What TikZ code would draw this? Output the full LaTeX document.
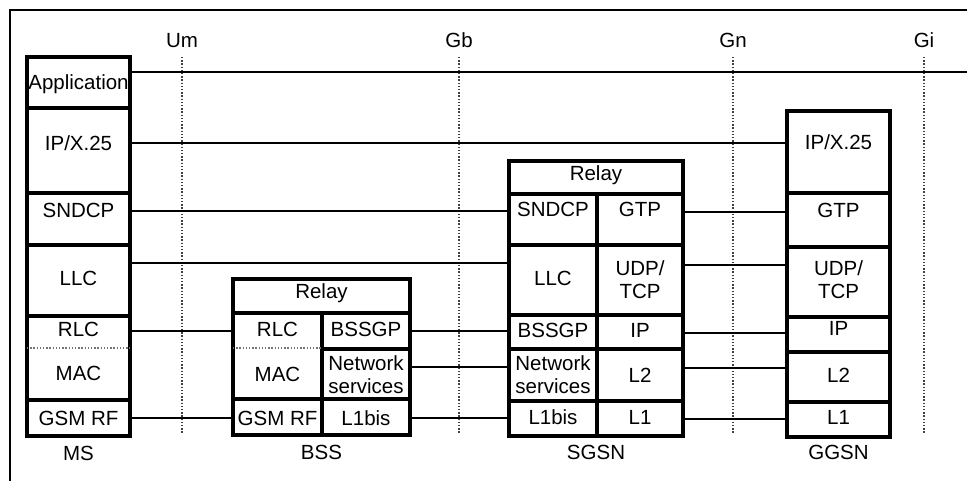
\documentclass[tikz,border=0pt]{standalone}
\usepackage{fontspec}
\setmainfont{Liberation Sans}
\begin{document}
\begin{tikzpicture}[x=1pt,y=-1pt,
	every node/.style={font=\fontsize{20.5}{23}\selectfont},
	couche/.style={draw, line width=3.4pt, anchor=north west, inner sep=0pt, outer sep=0pt},
	txt/.style={inner sep=0pt, text height=15pt, text depth=0pt},
	txtdeux/.style={inner sep=0pt, align=center},
	lien/.style={line width=2.8pt},
	iface/.style={line width=1.4pt, black!75, dash pattern=on 1.4pt off 1.8pt},
	separ/.style={line width=1.4pt, black!55, dash pattern=on 1.4pt off 1.8pt}]
	\useasboundingbox (0,0) rectangle (967,481);
	%cadre
	\draw [line width=2.2pt] (967,10) -- (10,10) -- (10,481);
	%hauteurs des liaisons
	\coordinate (y-haut) at (0,57);
	\coordinate (y-bas) at (0,433);
	\coordinate (y-app) at (0,72);
	\coordinate (y-ip) at (0,143);
	\coordinate (y-sndcp) at (0,211);
	\coordinate (y-llc) at (0,263);
	\coordinate (y-rlc) at (0,331);
	\coordinate (y-rf) at (0,418);
	\coordinate (y-ns) at (0,367);
	\coordinate (y-gtp) at (0,212);
	\coordinate (y-udp) at (0,265);
	\coordinate (y-ipg) at (0,333);
	\coordinate (y-l2) at (0,368);
	\coordinate (y-l1) at (0,419);
	\coordinate (fin-app) at (967,72);
	%fin
	%interfaces
	\node[txt] (um) at (182,40) {Um};
	\node[txt] (gb) at (459,40) {Gb};
	\node[txt] (gn) at (733,40) {Gn};
	\node[txt] (gi) at (924,40) {Gi};
	\draw[iface] (um |- y-haut) -- (um |- y-bas);
	\draw[iface] (gb |- y-haut) -- (gb |- y-bas);
	\draw[iface] (gn |- y-haut) -- (gn |- y-bas);
	\draw[iface] (gi |- y-haut) -- (gi |- y-bas);
	%fin
	%MS
	\node[couche, minimum width=103pt, minimum height=51pt] (ms-app) at (27,57) {};
	\node[couche, minimum width=103pt, minimum height=85pt] (ms-ip) at (27,108) {};
	\node[couche, minimum width=103pt, minimum height=52pt] (ms-sndcp) at (27,193) {};
	\node[couche, minimum width=103pt, minimum height=71pt] (ms-llc) at (27,245) {};
	\node[couche, minimum width=103pt, minimum height=84pt] (ms-mac) at (27,316) {};
	\node[couche, minimum width=103pt, minimum height=36pt] (ms-rf) at (27,400) {};
	\draw[separ] (ms-mac.west |- 0,348) -- (ms-mac.east |- 0,348);
	\node[txt] (ms-app-t) at (78.5,82) {Application};
	\node[txt] (ms-ip-t) at (78.5,143) {IP/X.25};
	\node[txt] (ms-sndcp-t) at (78.5,210) {SNDCP};
	\node[txt] (ms-llc-t) at (78.5,278) {LLC};
	\node[txt] (ms-rlc-t) at (78.5,329) {RLC};
	\node[txt] (ms-mac-t) at (78.5,373) {MAC};
	\node[txt] (ms-rf-t) at (78.5,418) {GSM RF};
	\node[txt] (ms) at (78.5,453) {MS};
	%fin
	%BSS
	\node[couche, minimum width=177pt, minimum height=34pt] (bss-relay) at (233,279) {};
	\node[couche, minimum width=89pt, minimum height=86pt] (bss-mac) at (233,313) {};
	\node[couche, minimum width=88pt, minimum height=36pt] (bss-bssgp) at (322,313) {};
	\node[couche, minimum width=88pt, minimum height=50pt] (bss-ns) at (322,349) {};
	\node[couche, minimum width=89pt, minimum height=36pt] (bss-rf) at (233,399) {};
	\node[couche, minimum width=88pt, minimum height=36pt] (bss-l1) at (322,399) {};
	\draw[separ] (bss-mac.west |- 0,348) -- (bss-mac.east |- 0,348);
	\node[txt] (bss-relay-t) at (321.5,291) {Relay};
	\node[txt] (bss-rlc-t) at (277.5,329) {RLC};
	\node[txt] (bss-mac-t) at (277.5,374) {MAC};
	\node[txt] (bss-rf-t) at (277.5,418) {GSM RF};
	\node[txt] (bss-bssgp-t) at (366,329) {BSSGP};
	\node[txtdeux] (bss-ns-t) at (366,375) {Network\\services};
	\node[txt] (bss-l1-t) at (366,418) {L1bis};
	\node[txt] (bss) at (321.5,452) {BSS};
	%fin
	%SGSN
	\node[couche, minimum width=174pt, minimum height=33pt] (sg-relay) at (509,161) {};
	\node[couche, minimum width=88pt, minimum height=51pt] (sg-sndcp) at (509,194) {};
	\node[couche, minimum width=86pt, minimum height=51pt] (sg-gtp) at (597,194) {};
	\node[couche, minimum width=88pt, minimum height=70pt] (sg-llc) at (509,245) {};
	\node[couche, minimum width=86pt, minimum height=70pt] (sg-udp) at (597,245) {};
	\node[couche, minimum width=88pt, minimum height=34pt] (sg-bssgp) at (509,315) {};
	\node[couche, minimum width=86pt, minimum height=34pt] (sg-ip) at (597,315) {};
	\node[couche, minimum width=88pt, minimum height=52pt] (sg-ns) at (509,349) {};
	\node[couche, minimum width=86pt, minimum height=52pt] (sg-l2) at (597,349) {};
	\node[couche, minimum width=88pt, minimum height=35pt] (sg-l1bis) at (509,401) {};
	\node[couche, minimum width=86pt, minimum height=35pt] (sg-l1) at (597,401) {};
	\node[txt] (sg-relay-t) at (596,173) {Relay};
	\node[txt] (sg-sndcp-t) at (553,209) {SNDCP};
	\node[txt] (sg-gtp-t) at (640,209) {GTP};
	\node[txt] (sg-llc-t) at (553,278) {LLC};
	\node[txtdeux] (sg-udp-t) at (640,280) {UDP/\\TCP};
	\node[txt] (sg-bssgp-t) at (553,330) {BSSGP};
	\node[txt] (sg-ip-t) at (640,330) {IP};
	\node[txtdeux] (sg-ns-t) at (553,375) {Network\\services};
	\node[txt] (sg-l2-t) at (640,375) {L2};
	\node[txt] (sg-l1bis-t) at (553,417) {L1bis};
	\node[txt] (sg-l1-t) at (640,417) {L1};
	\node[txt] (sgsn) at (596,452) {SGSN};
	%fin
	%GGSN
	\node[couche, minimum width=103pt, minimum height=82pt] (gg-ip) at (787,111) {};
	\node[couche, minimum width=103pt, minimum height=54pt] (gg-gtp) at (787,193) {};
	\node[couche, minimum width=103pt, minimum height=70pt] (gg-udp) at (787,247) {};
	\node[couche, minimum width=103pt, minimum height=35pt] (gg-ipr) at (787,317) {};
	\node[couche, minimum width=103pt, minimum height=50pt] (gg-l2) at (787,352) {};
	\node[couche, minimum width=103pt, minimum height=35pt] (gg-l1) at (787,402) {};
	\node[txt] (gg-ip-t) at (838.5,142) {IP/X.25};
	\node[txt] (gg-gtp-t) at (838.5,210) {GTP};
	\node[txtdeux] (gg-udp-t) at (838.5,280) {UDP/\\TCP};
	\node[txt] (gg-ipr-t) at (838.5,328) {IP};
	\node[txt] (gg-l2-t) at (838.5,375) {L2};
	\node[txt] (gg-l1-t) at (838.5,417) {L1};
	\node[txt] (ggsn) at (838.5,452) {GGSN};
	%fin
	%liaisons
	\draw[lien] (ms-app.east |- y-app) -- (fin-app);
	\draw[lien] (ms-ip.east |- y-ip) -- (gg-ip.west |- y-ip);
	\draw[lien] (ms-sndcp.east |- y-sndcp) -- (sg-sndcp.west |- y-sndcp);
	\draw[lien] (ms-llc.east |- y-llc) -- (sg-llc.west |- y-llc);
	\draw[lien] (ms-mac.east |- y-rlc) -- (bss-mac.west |- y-rlc);
	\draw[lien] (ms-rf.east |- y-rf) -- (bss-rf.west |- y-rf);
	\draw[lien] (bss-bssgp.east |- y-rlc) -- (sg-bssgp.west |- y-rlc);
	\draw[lien] (bss-ns.east |- y-ns) -- (sg-ns.west |- y-ns);
	\draw[lien] (bss-l1.east |- y-rf) -- (sg-l1bis.west |- y-rf);
	\draw[lien] (sg-gtp.east |- y-gtp) -- (gg-gtp.west |- y-gtp);
	\draw[lien] (sg-udp.east |- y-udp) -- (gg-udp.west |- y-udp);
	\draw[lien] (sg-ip.east |- y-ipg) -- (gg-ipr.west |- y-ipg);
	\draw[lien] (sg-l2.east |- y-l2) -- (gg-l2.west |- y-l2);
	\draw[lien] (sg-l1.east |- y-l1) -- (gg-l1.west |- y-l1);
	%fin
\end{tikzpicture}
\end{document}
